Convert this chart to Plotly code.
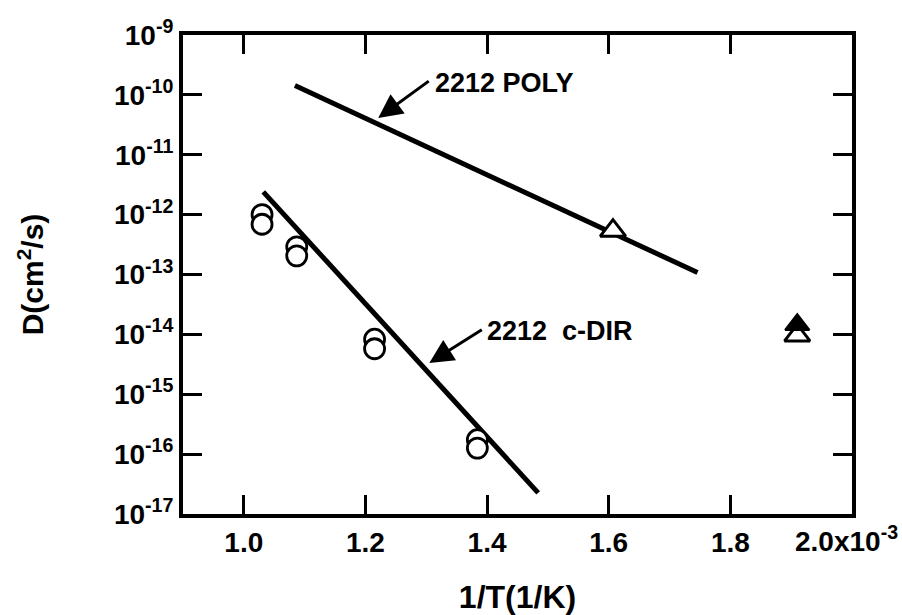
import plotly.graph_objects as go

# ---- data ----
# c-axis direction (open circles), x = 1/T in units of 1e-3 1/K
cdir_x_upper = [1.030, 1.087, 1.215, 1.384]
cdir_D_upper = [1.0e-12, 2.9e-13, 8.3e-15, 1.74e-16]
cdir_x_lower = [1.030, 1.087, 1.215, 1.384]
cdir_D_lower = [6.9e-13, 2.05e-13, 5.75e-15, 1.26e-16]

# polycrystalline (triangles)
poly_open_x = [1.607, 1.910]
poly_open_D = [5.4e-13, 9.6e-15]
poly_fill_x = [1.910]
poly_fill_D = [1.45e-14]

# fitted lines (end points)
poly_line_x = [1.084, 1.746]
poly_line_D = [1.43e-10, 1.08e-13]
cdir_line_x = [1.032, 1.484]
cdir_line_D = [2.4e-12, 2.25e-17]

x_tickvals = [1.0, 1.2, 1.4, 1.6, 1.8, 2.0]
x_ticktext = ["1.0", "1.2", "1.4", "1.6", "1.8", ""]
x_last_label = "2.0x10<sup>-3</sup>"
y_exponents = [-17, -16, -15, -14, -13, -12, -11, -10, -9]

FONT = "Liberation Sans, Arial, Helvetica, sans-serif"

fig = go.Figure()

fig.add_trace(go.Scatter(x=poly_line_x, y=poly_line_D, mode="lines",
                         line=dict(color="black", width=5), showlegend=False))
fig.add_trace(go.Scatter(x=cdir_line_x, y=cdir_line_D, mode="lines",
                         line=dict(color="black", width=5), showlegend=False))

circ = dict(symbol="circle", size=20, color="white", line=dict(color="black", width=2.8))
fig.add_trace(go.Scatter(x=cdir_x_upper, y=cdir_D_upper, mode="markers",
                         marker=circ, showlegend=False))
fig.add_trace(go.Scatter(x=cdir_x_lower, y=cdir_D_lower, mode="markers",
                         marker=circ, showlegend=False))

fig.add_trace(go.Scatter(x=poly_open_x, y=poly_open_D, mode="markers",
                         marker=dict(symbol="triangle-up", size=22, color="white",
                                     line=dict(color="black", width=3)),
                         showlegend=False))
fig.add_trace(go.Scatter(x=poly_fill_x, y=poly_fill_D, mode="markers",
                         marker=dict(symbol="triangle-up", size=21, color="black",
                                     line=dict(color="black", width=2)),
                         showlegend=False))

# annotations: arrows and labels
fig.add_annotation(x=1.221, y=-10.386, ax=52, ay=-38, text="", showarrow=True,
                   arrowhead=2, arrowsize=1.6, arrowwidth=3, arrowcolor="black")
fig.add_annotation(x=1.311, y=-9.80, text="2212 POLY", showarrow=False,
                   xanchor="left", yanchor="middle",
                   font=dict(family=FONT, size=27, color="black", weight="bold"))
fig.add_annotation(x=1.305, y=-14.476, ax=54, ay=-34, text="", showarrow=True,
                   arrowhead=2, arrowsize=1.6, arrowwidth=3, arrowcolor="black")
fig.add_annotation(x=1.397, y=-13.94, text="2212\u00a0\u00a0c-DIR", showarrow=False,
                   xanchor="left", yanchor="middle",
                   font=dict(family=FONT, size=27, color="black", weight="bold"))

# last x tick label (drawn as annotation so it is not dropped at the page edge)
fig.add_annotation(x=x_tickvals[-1], xref="x", y=0, yref="paper", text=x_last_label,
                   showarrow=False, xanchor="center", yanchor="middle",
                   xshift=-6, yshift=-25,
                   font=dict(family=FONT, size=28, color="black", weight="bold"))

fig.update_xaxes(range=[0.9, 2.0], tickvals=x_tickvals, ticktext=x_ticktext,
                 ticks="inside", ticklen=19, tickwidth=3, tickcolor="black",
                 showline=True, linewidth=4, linecolor="black", mirror="ticks",
                 showgrid=False, zeroline=False,
                 tickfont=dict(family=FONT, size=28, color="black", weight="bold"),
                 title=dict(text="1/T(1/K)", standoff=30,
                            font=dict(family=FONT, size=32, color="black", weight="bold")))
fig.update_yaxes(type="log", range=[-17, -9],
                 tickvals=[10.0 ** e for e in y_exponents],
                 ticktext=[f"10<sup>{e}</sup>" for e in y_exponents],
                 ticks="inside", ticklen=19, tickwidth=3, tickcolor="black",
                 showline=True, linewidth=4, linecolor="black", mirror="ticks",
                 showgrid=False, zeroline=False,
                 tickfont=dict(family=FONT, size=28, color="black", weight="bold"),
                 title=dict(text="D(cm<sup>2</sup>/s)", standoff=62,
                            font=dict(family=FONT, size=30, color="black", weight="bold")))

fig.update_layout(width=902, height=615, margin=dict(l=183, r=50, t=35, b=101, autoexpand=False),
                  plot_bgcolor="white", paper_bgcolor="white")

fig.write_html("out.html")
